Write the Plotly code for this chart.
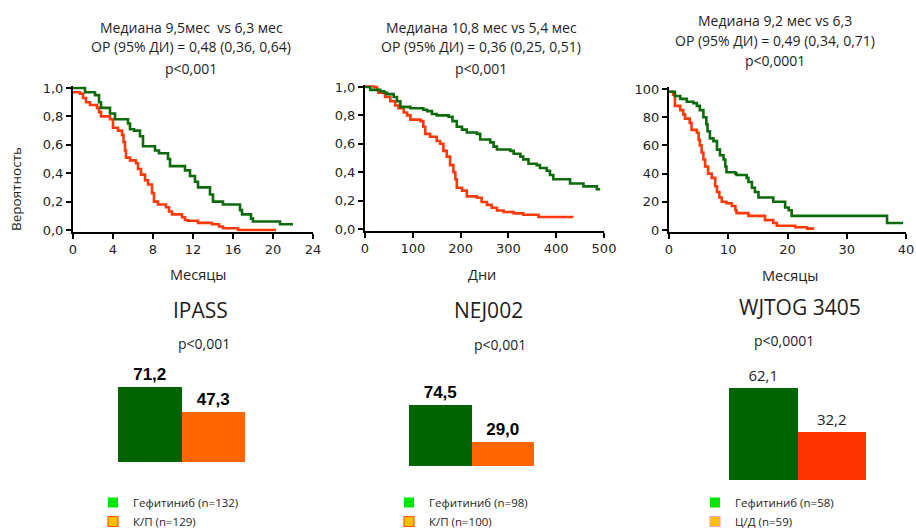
import plotly.graph_objects as go

W, H = 916, 529

# ---------------- data ----------------
# IPASS (months, probability)
ipass_gef_t = [0, 1.2, 2.2, 2.6, 2.8, 3.7, 4.2, 5.5, 5.7, 6.1, 6.7, 7.0, 8.2, 8.6, 9.5, 9.7, 11.2, 11.7, 12.2, 12.5, 13.7, 14.0, 15.0, 16.7, 16.9, 17.8, 18.0, 20.7, 22.0]
ipass_gef_s = [1.0, 0.97, 0.95, 0.90, 0.86, 0.82, 0.78, 0.75, 0.71, 0.70, 0.66, 0.59, 0.56, 0.54, 0.50, 0.45, 0.42, 0.38, 0.34, 0.30, 0.25, 0.20, 0.18, 0.14, 0.11, 0.08, 0.06, 0.04, 0.04]
ipass_kp_t = [0, 0.7, 1.0, 1.3, 1.7, 2.4, 2.6, 2.8, 3.7, 4.0, 4.5, 4.9, 5.05, 5.2, 5.3, 5.7, 6.3, 6.5, 6.8, 7.2, 7.5, 7.9, 8.1, 8.5, 9.3, 9.6, 9.9, 10.9, 11.2, 11.5, 12.5, 13.9, 14.6, 15.0, 16.5, 20.3]
ipass_kp_s = [0.97, 0.96, 0.93, 0.90, 0.88, 0.86, 0.83, 0.80, 0.78, 0.72, 0.70, 0.67, 0.62, 0.56, 0.51, 0.49, 0.47, 0.43, 0.39, 0.35, 0.32, 0.26, 0.20, 0.18, 0.16, 0.13, 0.11, 0.09, 0.07, 0.065, 0.05, 0.04, 0.025, 0.012, 0.0, 0.0]

# NEJ002 (days, probability)
nej_gef_t = [0, 11, 32, 40, 46, 60, 67, 74, 95, 122, 130, 140, 150, 175, 183, 192, 203, 213, 234, 241, 262, 269, 276, 304, 311, 325, 331, 342, 359, 366, 380, 387, 394, 422, 429, 450, 457, 485, 492]
nej_gef_s = [1.0, 0.98, 0.97, 0.96, 0.95, 0.93, 0.90, 0.86, 0.85, 0.84, 0.83, 0.81, 0.80, 0.79, 0.76, 0.72, 0.70, 0.68, 0.67, 0.63, 0.61, 0.58, 0.56, 0.55, 0.53, 0.51, 0.49, 0.46, 0.45, 0.43, 0.41, 0.38, 0.35, 0.35, 0.32, 0.32, 0.30, 0.28, 0.28]
nej_kp_t = [0, 18, 25, 28, 42, 53, 63, 70, 81, 88, 95, 116, 122, 126, 136, 150, 157, 164, 171, 178, 185, 189, 192, 203, 213, 234, 244, 255, 265, 276, 290, 311, 331, 359, 363, 436]
nej_kp_s = [1.01, 1.0, 0.98, 0.96, 0.93, 0.90, 0.87, 0.85, 0.82, 0.80, 0.77, 0.76, 0.72, 0.67, 0.65, 0.62, 0.60, 0.55, 0.51, 0.45, 0.40, 0.35, 0.29, 0.27, 0.23, 0.22, 0.19, 0.17, 0.15, 0.13, 0.12, 0.11, 0.10, 0.10, 0.085, 0.085]

# WJTOG 3405 (months, %)
wj_gef_t = [0, 1.0, 1.9, 3.0, 4.1, 4.7, 5.2, 5.8, 6.3, 6.5, 6.9, 7.5, 8.1, 8.6, 9.2, 9.5, 9.7, 11.2, 11.4, 13.1, 13.4, 14.0, 14.5, 15.1, 17.6, 19.6, 20.2, 20.7, 36.5, 36.8, 39.5]
wj_gef_s = [98, 95, 93, 91, 90, 88, 85, 80, 75, 70, 65, 63, 57, 53, 50, 45, 41, 40, 39, 37, 34, 30, 27, 23, 20, 16, 14, 10, 10, 5, 5]
wj_cd_t = [0, 0.7, 1.0, 1.9, 2.4, 2.7, 3.5, 3.8, 4.7, 5.0, 5.2, 5.5, 5.8, 6.1, 6.6, 7.2, 7.8, 8.1, 8.5, 8.9, 9.7, 10.6, 11.2, 11.4, 13.4, 16.2, 17.6, 18.2, 21.3, 23.3, 24.3]
wj_cd_s = [98, 96, 88, 85, 82, 79, 76, 71, 69, 64, 60, 55, 50, 45, 40, 37, 31, 27, 23, 20, 19, 17, 14, 12, 10, 7, 5, 3, 2, 1, 0]

# bar charts (%)
bar_categories = ["Гефитиниб", "Химиотерапия"]
ipass_bar = [71.2, 47.3]
nej_bar = [74.5, 29.0]
wj_bar = [62.1, 32.2]

trial_names = ["IPASS", "NEJ002", "WJTOG 3405"]
trial_p = ["p<0,001", "p<0,001", "p<0,0001"]
km_titles = [
    ["Медиана 9,5мес  vs 6,3 мес", "ОР (95% ДИ) = 0,48 (0,36, 0,64)", "p<0,001"],
    ["Медиана 10,8 мес vs 5,4 мес", "ОР (95% ДИ) = 0,36 (0,25, 0,51)", "p<0,001"],
    ["Медиана 9,2 мес vs 6,3", "ОР (95% ДИ) = 0,49 (0,34, 0,71)", "p<0,0001"],
]
x_titles = ["Месяцы", "Дни", "Месяцы"]
y_title = "Вероятность"
legend_names = [
    ["Гефитиниб (n=132)", "К/П (n=129)"],
    ["Гефитиниб (n=98)", "К/П (n=100)"],
    ["Гефитиниб (n=58)", "Ц/Д (n=59)"],
]

# ---------------- style ----------------
GREEN_LINE = "#0d6a0d"
RED_LINE = "#ff3a0a"
GREEN_BAR = "#006400"
ORANGE_BARS = ["#ff6600", "#ff6600", "#ff3300"]
TXT = "#1e1e1e"
FONT = "Open Sans"


def px_x(p):
    return p / W


def px_y(p):
    return 1 - p / H


def xdom(p0, p1):
    return [px_x(p0), px_x(p1)]


def ydom(ptop, pbot):
    return [px_y(pbot), px_y(ptop)]


fig = go.Figure()

# KM panels: pixel positions of axis value 0 / max
km = [
    dict(x0=73, x1=313, xmax=24, dt=4, yb=230, yt=88, ymax=1.0, dy=0.2, fmt=".1f",
         g=(ipass_gef_t, ipass_gef_s), r=(ipass_kp_t, ipass_kp_s)),
    dict(x0=365, x1=604, xmax=500, dt=100, yb=229, yt=87, ymax=1.0, dy=0.2, fmt=".1f",
         g=(nej_gef_t, nej_gef_s), r=(nej_kp_t, nej_kp_s)),
    dict(x0=669, x1=906, xmax=40, dt=10, yb=230, yt=89, ymax=100, dy=20, fmt="d",
         g=(wj_gef_t, wj_gef_s), r=(wj_cd_t, wj_cd_s)),
]

layout_axes = {}
for i, k in enumerate(km):
    n = i + 1
    xa = "x" if n == 1 else f"x{n}"
    ya = "y" if n == 1 else f"y{n}"
    pad = 0.012 * k["ymax"]
    ppu = (k["yb"] - k["yt"]) / k["ymax"]
    for (tt, ss), col in ((k["r"], RED_LINE), (k["g"], GREEN_LINE)):
        fig.add_trace(go.Scatter(x=tt, y=ss, mode="lines", line=dict(shape="hv", color=col, width=2.6),
                                 xaxis=xa, yaxis=ya, showlegend=False, hoverinfo="skip"))
    axstyle = dict(showline=True, linecolor="black", linewidth=2, ticks="outside", ticklen=5,
                   tickwidth=2, tickcolor="black", showgrid=False, zeroline=False,
                   tickfont=dict(family="DejaVu Sans", size=13, color=TXT), layer="below traces")
    layout_axes["xaxis" if n == 1 else f"xaxis{n}"] = dict(
        domain=xdom(k["x0"], k["x1"]), range=[0, k["xmax"]], dtick=k["dt"], tick0=0,
        anchor=ya, **axstyle)
    layout_axes["yaxis" if n == 1 else f"yaxis{n}"] = dict(
        domain=ydom(k["yt"] - pad * ppu, k["yb"] + pad * ppu), range=[-pad, k["ymax"] + pad],
        dtick=k["dy"], tick0=0, tickformat=k["fmt"], anchor=xa, **axstyle)

# bar panels: pixel x extent, bottom, px per unit
bars = [
    dict(x0=118, x1=245, yb=462, ppu=75 / 71.2, vals=ipass_bar, bold=True),
    dict(x0=409, x1=534, yb=466, ppu=61 / 74.5, vals=nej_bar, bold=True),
    dict(x0=729, x1=866, yb=480, ppu=92 / 62.1, vals=wj_bar, bold=False),
]
for i, b in enumerate(bars):
    n = i + 4
    top = 350
    span = (b["yb"] - top) / b["ppu"]
    if b["bold"]:
        tf = dict(family="Liberation Sans", size=17, color="black")
        tt = "<b>%{y:.1f}</b>"
    else:
        tf = dict(family=FONT, size=15, color=TXT)
        tt = "%{y:.1f}"
    fig.add_trace(go.Bar(x=bar_categories, y=b["vals"], marker=dict(color=[GREEN_BAR, ORANGE_BARS[i]], line=dict(width=0)),
                         texttemplate=tt, textposition="outside", textfont=tf, cliponaxis=False,
                         xaxis=f"x{n}", yaxis=f"y{n}", showlegend=False, hoverinfo="skip"))
    layout_axes[f"xaxis{n}"] = dict(domain=xdom(b["x0"], b["x1"]), type="category", visible=False, anchor=f"y{n}")
    layout_axes[f"yaxis{n}"] = dict(domain=ydom(top, b["yb"]), range=[0, span], visible=False, anchor=f"x{n}")

# legends
leg_x = [93, 389, 695]
swatch_lines = ["#ff5a00", "#ff5a00", "#ffa0b0"]
for i in range(3):
    lname = "legend" if i == 0 else f"legend{i + 1}"
    for j, name in enumerate(legend_names[i]):
        if j == 0:
            mk = dict(symbol="square", size=10, color="#00e600", line=dict(width=0))
        else:
            mk = dict(symbol="square", size=10, color="#ffc000", line=dict(width=1.2, color=swatch_lines[i]))
        fig.add_trace(go.Scatter(x=[None], y=[None], mode="markers", marker=mk, name=name,
                                 xaxis=f"x{i + 4}", yaxis=f"y{i + 4}", legend=lname))
    layout_axes[lname] = dict(x=px_x(leg_x[i]), y=px_y(488), xanchor="left", yanchor="top",
                              bgcolor="rgba(0,0,0,0)", font=dict(family=FONT, size=11.5, color=TXT),
                              tracegroupgap=0, itemclick=False, itemdoubleclick=False)

# text
ann = []
title_cx = [191, 481, 775]
title_y = [[27, 47, 68], [27, 47, 68], [20, 40, 61]]
for i in range(3):
    for j, line in enumerate(km_titles[i]):
        ann.append(dict(text=line, x=px_x(title_cx[i]), y=px_y(title_y[i][j]), xref="paper", yref="paper",
                        showarrow=False, xanchor="center", yanchor="middle",
                        font=dict(family=FONT, size=14, color=TXT)))
xt_pos = [(198, 274), (482, 274), (790, 275)]
for i, t in enumerate(x_titles):
    ann.append(dict(text=t, x=px_x(xt_pos[i][0]), y=px_y(xt_pos[i][1]), xref="paper", yref="paper",
                    showarrow=False, xanchor="center", yanchor="middle",
                    font=dict(family=FONT, size=14.5, color=TXT)))
ann.append(dict(text=y_title, x=px_x(16), y=px_y(189), xref="paper", yref="paper", showarrow=False,
                textangle=-90, xanchor="center", yanchor="middle", font=dict(family=FONT, size=13.5, color=TXT)))
name_pos = [(200, 310), (488, 310), (800, 307)]
p_pos = [(204, 343), (500, 344), (784, 340)]
for i in range(3):
    ann.append(dict(text=trial_names[i], x=px_x(name_pos[i][0]), y=px_y(name_pos[i][1]), xref="paper", yref="paper",
                    showarrow=False, xanchor="center", yanchor="middle", font=dict(family=FONT, size=21, color=TXT)))
    ann.append(dict(text=trial_p[i], x=px_x(p_pos[i][0]), y=px_y(p_pos[i][1]), xref="paper", yref="paper",
                    showarrow=False, xanchor="center", yanchor="middle", font=dict(family=FONT, size=14, color=TXT)))

fig.update_layout(width=W, height=H, margin=dict(l=0, r=0, t=0, b=0, autoexpand=False), paper_bgcolor="white",
                  plot_bgcolor="rgba(0,0,0,0)", separators=", ", bargap=0, annotations=ann,
                  showlegend=True, **layout_axes)

fig.write_html("out.html", config={"displayModeBar": False, "staticPlot": True},
               post_script="document.body.style.margin='0';document.body.style.overflow='hidden';")
